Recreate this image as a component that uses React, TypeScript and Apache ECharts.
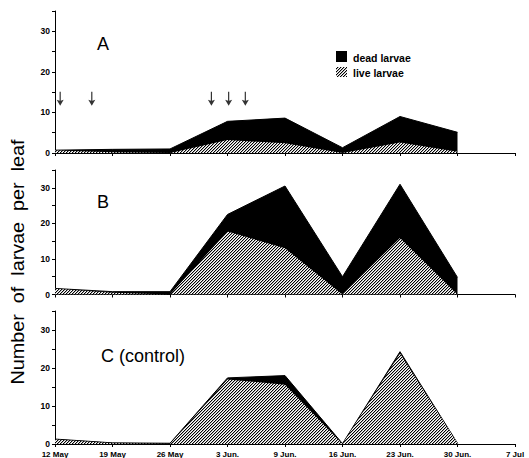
import React, { useEffect, useRef } from "react";
import * as echarts from "echarts";

const weekLabels = ["12 May", "19 May", "26 May", "3 Jun.", "9 Jun.", "16 Jun.", "23 Jun.", "30 Jun.", "7 Jul"];
const sampleWeeks = [0, 1, 2, 3, 4, 5, 6, 7];

const liveA = [0.6, 0.2, 0, 3.2, 2.4, 0, 2.6, 0.3];
const deadA = [0.1, 0.7, 1.0, 4.6, 6.2, 1.3, 6.4, 4.8];
const liveB = [1.6, 0.5, 0, 17.7, 13.0, 0, 15.9, 0];
const deadB = [0.1, 0.3, 0.8, 4.8, 17.5, 5.0, 15.1, 4.8];
const liveC = [1.2, 0.2, 0, 17.0, 15.6, 0, 23.8, 0.2];
const deadC = [0.1, 0.1, 0.2, 0.4, 2.4, 0.1, 0.5, 0];

const sprayWeeks = [0.09, 0.64, 2.72, 3.02, 3.31];
const sprayLevel = 13.4;

const panelNames = ["A", "B", "C (control)"];
const yTicks = [0, 10, 20, 30];
const FONT = "'Liberation Sans', Arial, Helvetica, sans-serif";

function makeHatch(): string {
  const n = 3;
  const c = document.createElement("canvas");
  c.width = n;
  c.height = n;
  const ctx = c.getContext("2d")!;
  ctx.fillStyle = "#fff";
  ctx.fillRect(0, 0, n, n);
  for (let x = 0; x < n; x++) {
    for (let y = 0; y < n; y++) {
      const m = (x + y) % n;
      if (m === n - 1) {
        ctx.fillStyle = "#000";
        ctx.fillRect(x, y, 1, 1);
      } else if (m === 0) {
        ctx.fillStyle = "#b0b0b0";
        ctx.fillRect(x, y, 1, 1);
      }
    }
  }
  return c.toDataURL();
}

export default function App() {
  const ref = useRef<HTMLDivElement>(null);
  useEffect(() => {
    document.body.style.margin = "0";
    const chart = echarts.init(ref.current!, null, { renderer: "svg" });
    const hatch: any = { image: makeHatch(), repeat: "repeat", imageWidth: 3, imageHeight: 3 };

    const grids = [
      { left: 55, right: 14, top: 11, height: 142 },
      { left: 55, right: 14, top: 170, height: 124.5 },
      { left: 55, right: 14, top: 311, height: 133 },
    ];
    const lives = [liveA, liveB, liveC];
    const deads = [deadA, deadB, deadC];

    const xAxis = grids.map((_, i) => ({
      type: "value",
      gridIndex: i,
      min: 0,
      max: 8,
      interval: 1,
      axisLine: { lineStyle: { color: "#000", width: 1 } },
      axisTick: { show: true, length: 3, lineStyle: { color: "#000" } },
      splitLine: { show: false },
      axisLabel: {
        show: i === 2,
        margin: 6,
        fontSize: 8,
        fontWeight: "bold",
        color: "#000",
        fontFamily: FONT,
        formatter: (v: number) => weekLabels[Math.round(v)] ?? "",
      },
    }));
    const yAxis = grids.map((_, i) => ({
      type: "value",
      gridIndex: i,
      min: 0,
      max: 35,
      interval: 5,
      axisLine: { show: true, lineStyle: { color: "#000", width: 1 } },
      axisTick: { show: true, length: 3, lineStyle: { color: "#000" } },
      splitLine: { show: false },
      axisLabel: {
        margin: 5,
        fontSize: 8.5,
        fontWeight: "bold",
        color: "#000",
        fontFamily: FONT,
        formatter: (v: number) => (yTicks.includes(v) ? String(v) : ""),
      },
    }));

    const series: any[] = [];
    grids.forEach((_, i) => {
      // total (live + dead) drawn black, live drawn hatched on top of it
      series.push({
        type: "line",
        name: "dead larvae",
        xAxisIndex: i,
        yAxisIndex: i,
        data: sampleWeeks.map((w, k) => [w, +(lives[i][k] + deads[i][k]).toFixed(2)]),
        showSymbol: false,
        lineStyle: { width: 1, color: "#000" },
        areaStyle: { color: "#000", opacity: 1 },
        z: 2,
      });
      series.push({
        type: "line",
        name: "live larvae",
        xAxisIndex: i,
        yAxisIndex: i,
        data: sampleWeeks.map((w, k) => [w, lives[i][k]]),
        showSymbol: false,
        lineStyle: { width: 0 },
        areaStyle: { color: hatch, opacity: 1 },
        z: 3,
      });
    });
    series.push({
      type: "scatter",
      xAxisIndex: 0,
      yAxisIndex: 0,
      data: sprayWeeks.map((w) => [w, sprayLevel]),
      symbol: "path://M4.4,0 L5.6,0 L5.6,9 L8.5,8 L5,14 L1.5,8 L4.4,9 Z",
      symbolSize: [7, 14],
      itemStyle: { color: "#000" },
      silent: true,
    });

    const panelPos = [
      { x: 103, y: 44 },
      { x: 103, y: 202 },
      { x: 143, y: 356 },
    ];

    const graphic: any[] = [
      ...panelNames.map((t, i) => ({
        type: "text",
        x: panelPos[i].x,
        y: panelPos[i].y,
        style: {
          text: t,
          fontSize: 18,
          fontFamily: FONT,
          fill: "#000",
          textAlign: "center",
          textVerticalAlign: "middle",
        },
      })),
      {
        type: "text",
        x: 18,
        y: 262,
        rotation: Math.PI / 2,
        scaleX: 1.1,
        style: {
          text: "Number  of  larvae  per  leaf",
          fontSize: 18,
          fontFamily: FONT,
          fill: "#000",
          textAlign: "center",
          textVerticalAlign: "middle",
        },
      },
      { type: "rect", shape: { x: 336, y: 51, width: 11, height: 11 }, style: { fill: "#000" } },
      { type: "rect", shape: { x: 336, y: 67, width: 11, height: 10 }, style: { fill: hatch } },
      {
        type: "text",
        x: 353,
        y: 57.5,
        style: { text: "dead larvae", fontSize: 10.5, fontWeight: "bold", fontFamily: FONT, fill: "#000", textVerticalAlign: "middle" },
      },
      {
        type: "text",
        x: 353,
        y: 73,
        style: { text: "live larvae", fontSize: 10.5, fontWeight: "bold", fontFamily: FONT, fill: "#000", textVerticalAlign: "middle" },
      },
    ];

    chart.setOption({
      animation: false,
      backgroundColor: "#fff",
      grid: grids,
      xAxis,
      yAxis,
      series,
      graphic,
    });
    return () => chart.dispose();
  }, []);
  return <div ref={ref} style={{ position: "fixed", left: 0, top: 0, width: 529, height: 458 }} />;
}
